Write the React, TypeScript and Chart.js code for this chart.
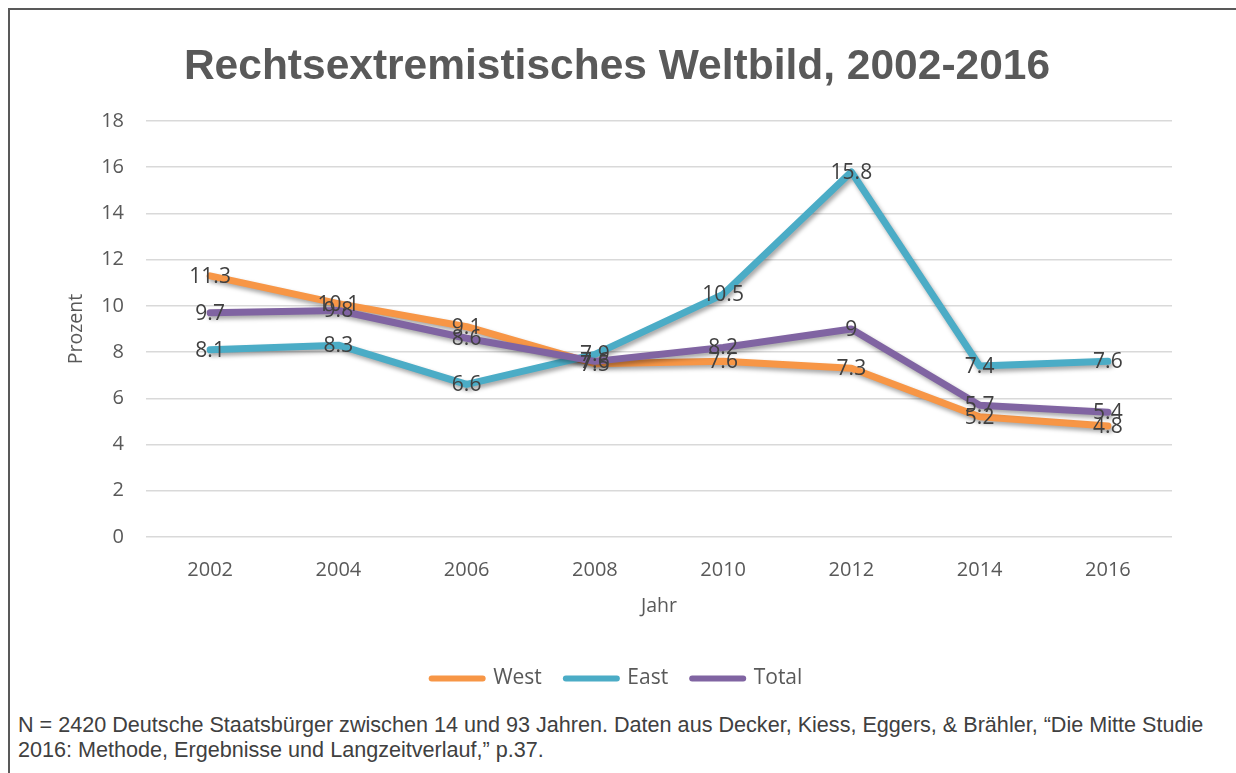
import React, { useEffect, useRef } from "react";
import { Chart, registerables } from "chart.js";

Chart.register(...registerables);

const years = ["2002", "2004", "2006", "2008", "2010", "2012", "2014", "2016"];
const westValues = [11.3, 10.1, 9.1, 7.5, 7.6, 7.3, 5.2, 4.8];
const eastValues = [8.1, 8.3, 6.6, 7.9, 10.5, 15.8, 7.4, 7.6];
const totalValues = [9.7, 9.8, 8.6, 7.6, 8.2, 9, 5.7, 5.4];
const seriesNames = ["West", "East", "Total"];
const seriesColors = ["#F79646", "#4BACC6", "#8064A2"];
const yMin = 0;
const yMax = 18;
const yStep = 2;
const chartTitle = "Rechtsextremistisches Weltbild, 2002-2016";
const yAxisTitle = "Prozent";
const xAxisTitle = "Jahr";
const footnoteLines = [
  "N = 2420 Deutsche Staatsbürger zwischen 14 und 93 Jahren. Daten aus Decker, Kiess, Eggers, & Brähler, \u201cDie Mitte Studie",
  "2016: Methode, Ergebnisse und Langzeitverlauf,\u201d p.37.",
];

const shadowPlugin = {
  id: "lineShadow",
  beforeDatasetDraw(chart: any) {
    const ctx = chart.ctx;
    ctx.save();
    ctx.shadowColor = "rgba(0,0,0,0.35)";
    ctx.shadowBlur = 4;
    ctx.shadowOffsetX = 2;
    ctx.shadowOffsetY = 3;
  },
  afterDatasetDraw(chart: any) {
    chart.ctx.restore();
  },
};

const valueLabelPlugin = {
  id: "valueLabels",
  afterDatasetsDraw(chart: any) {
    const ctx = chart.ctx;
    ctx.save();
    ctx.font = '21px "Open Sans"';
    ctx.fillStyle = "#404040";
    ctx.textAlign = "center";
    ctx.textBaseline = "middle";
    chart.data.datasets.forEach((ds: any, i: number) => {
      const meta = chart.getDatasetMeta(i);
      meta.data.forEach((pt: any, j: number) => {
        ctx.fillText(String(ds.data[j]), pt.x, pt.y + 1);
      });
    });
    ctx.restore();
  },
};

export default function App() {
  const canvasRef = useRef<HTMLCanvasElement | null>(null);

  useEffect(() => {
    if (!canvasRef.current) return;
    const allValues = [westValues, eastValues, totalValues];
    const defaultLabels = Chart.defaults.plugins.legend.labels.generateLabels;
    const chart = new Chart(canvasRef.current, {
      type: "line",
      data: {
        labels: years,
        datasets: allValues.map((vals, i) => ({
          label: seriesNames[i],
          data: vals,
          borderColor: seriesColors[i],
          backgroundColor: seriesColors[i],
          borderWidth: 7,
          borderCapStyle: "round",
          borderJoinStyle: "round",
          pointRadius: 0,
          pointHoverRadius: 0,
          tension: 0,
          fill: false,
          order: 2 - i,
        })),
      },
      options: {
        animation: false,
        responsive: true,
        maintainAspectRatio: false,
        layout: { padding: { left: 62, right: 64, top: 0, bottom: 1 } },
        plugins: {
          tooltip: { enabled: false },
          title: {
            display: true,
            text: chartTitle,
            color: "#595959",
            font: { family: '"Liberation Sans", Arial, sans-serif', size: 42.5, weight: "bold", lineHeight: 1.2 },
            padding: { top: 42, bottom: 28 },
          },
          legend: {
            display: true,
            position: "bottom",
            labels: {
              usePointStyle: true,
              pointStyle: "line",
              pointStyleWidth: 51,
              boxHeight: 21,
              padding: 24,
              color: "#595959",
              font: { family: '"Open Sans"', size: 21 },
              generateLabels: (c: any) =>
                defaultLabels(c).map((l: any) => ({
                  ...l,
                  lineCap: "round",
                  lineWidth: 6,
                  strokeStyle: seriesColors[l.datasetIndex],
                  fillStyle: seriesColors[l.datasetIndex],
                })),
              sort: (a: any, b: any) => a.datasetIndex - b.datasetIndex,
            },
          },
        },
        scales: {
          x: {
            grid: { display: false, drawTicks: false },
            border: { display: false },
            offset: true,
            ticks: {
              color: "#595959",
              font: { family: '"Open Sans"', size: 20 },
              padding: 21,
            },
            title: {
              display: true,
              text: xAxisTitle,
              color: "#595959",
              font: { family: '"Open Sans"', size: 19.5 },
              padding: { top: 0, bottom: 26 },
            },
            afterFit: (scale: any) => {
              scale.height = 107;
            },
          },
          y: {
            min: yMin,
            max: yMax,
            grid: { color: "#d9d9d9", lineWidth: 1.5, drawTicks: false },
            border: { display: false },
            ticks: {
              stepSize: yStep,
              color: "#595959",
              font: { family: '"Open Sans"', size: 20 },
              padding: 22,
            },
            title: {
              display: true,
              text: yAxisTitle,
              color: "#595959",
              font: { family: '"Open Sans"', size: 19.5 },
              padding: { top: 3, bottom: 4 },
            },
            afterFit: (scale: any) => {
              scale.width = 84;
            },
          },
        },
      },
      plugins: [shadowPlugin, valueLabelPlugin],
    } as any);
    return () => chart.destroy();
  }, []);

  return (
    <div
      style={{
        position: "fixed",
        left: 0,
        top: 0,
        width: 1236,
        height: 773,
        background: "#ffffff",
        overflow: "hidden",
      }}
    >
      <div
        style={{
          position: "absolute",
          left: 8,
          top: 8,
          right: 0,
          bottom: 0,
          borderTop: "2px solid #595959",
          borderLeft: "2px solid #595959",
        }}
      />
      <div style={{ position: "absolute", left: 0, top: 0, width: 1236, height: 700 }}>
        <canvas ref={canvasRef} />
      </div>
      <div
        style={{
          position: "absolute",
          left: 18,
          top: 712,
          width: 1215,
          fontFamily: '"Liberation Sans", Arial, sans-serif',
          fontSize: 21.6,
          lineHeight: "25px",
          color: "#404040",
          whiteSpace: "nowrap",
        }}
      >
        {footnoteLines.map((line, i) => (
          <div key={i}>{line}</div>
        ))}
      </div>
    </div>
  );
}
